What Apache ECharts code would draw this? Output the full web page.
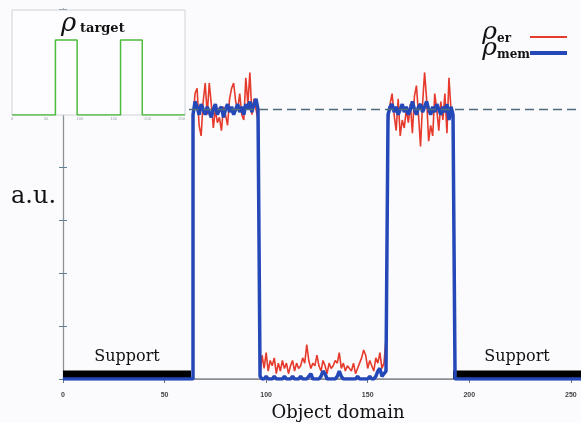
<!DOCTYPE html>
<html lang="en">
<head>
<meta charset="UTF-8">
<title>Object domain</title>
<script src="https://cdn.jsdelivr.net/npm/echarts@6/dist/echarts.min.js"></script>
<style>
    body {
        margin: 0;
        background: #fbfbfd;
    }

    #root {
        width: 581px;
        height: 423px;
    }
</style>
</head>
<body>
<div id="root"></div>
<script>
    // object domain: 0..255, support outside the two blocks
    var supportRanges = [[0, 63], [192, 255]];
    var targetBlocks = [[64, 96], [160, 192]];
    var refLevel = 1.02;

    // rho_er (red), reconstructed values
    var erBlock1 = [0.98, 1.08, 1.10, 0.96, 0.92, 1.05, 1.12, 1.00, 1.12, 1.04,
        0.95, 1.02, 0.97, 0.99, 0.94, 1.03, 1.00, 0.96, 1.06, 1.10,
        1.12, 1.05, 1.02, 1.08, 1.00, 0.98, 1.14, 1.04, 1.16, 1.00,
        1.06, 1.02, 0.98];
    var erGap = [0.02, 0.09, 0.04, 0.10, 0.03, 0.07, 0.05, 0.08, 0.02, 0.06,
        0.03, 0.07, 0.04, 0.06, 0.02, 0.05, 0.07, 0.03, 0.06, 0.04,
        0.05, 0.08, 0.06, 0.13, 0.07, 0.04, 0.06, 0.05, 0.09, 0.05,
        0.03, 0.07, 0.05, 0.02, 0.06, 0.04, 0.05, 0.07, 0.06, 0.10,
        0.04, 0.06, 0.03, 0.05, 0.04, 0.03, 0.06, 0.02, 0.04, 0.06,
        0.08, 0.11, 0.09, 0.04, 0.07, 0.05, 0.03, 0.08, 0.06, 0.10,
        0.04, 0.06, 0.15];
    var erBlock2 = [0.96, 1.04, 1.08, 1.00, 0.94, 1.06, 0.92, 0.98, 0.95, 1.02,
        0.97, 1.04, 0.93, 1.07, 1.11, 1.00, 0.88, 1.04, 1.16, 1.06,
        0.90, 0.96, 0.92, 1.08, 1.02, 0.94, 1.05, 0.98, 1.08, 0.93,
        1.14, 1.02, 0.98];

    // rho_mem (blue)
    var memBlock1 = [1.00, 1.05, 1.03, 1.00, 1.04, 1.02, 1.00, 1.03, 1.01, 0.99,
        1.02, 1.04, 1.00, 1.02, 1.03, 0.99, 1.02, 1.04, 1.01, 1.03,
        1.00, 1.02, 1.04, 1.01, 1.03, 1.00, 1.04, 1.02, 1.05, 1.01,
        1.04, 1.06, 1.02];
    var memGap = [0.01, 0, 0, 0.01, 0, 0, 0, 0.01, 0, 0,
        0, 0, 0.01, 0, 0, 0, 0.01, 0, 0, 0,
        0.01, 0, 0, 0, 0.01, 0.02, 0, 0, 0, 0,
        0.01, 0.03, 0.02, 0, 0, 0, 0, 0, 0.01, 0.03,
        0.01, 0, 0, 0, 0, 0, 0, 0, 0.01, 0,
        0, 0, 0, 0, 0.01, 0, 0, 0.01, 0.03, 0.04,
        0.01, 0.02, 0.03];
    var memBlock2 = [1.00, 1.03, 1.04, 1.01, 1.03, 1.00, 1.02, 1.04, 1.01, 1.03,
        1.00, 1.02, 1.05, 1.02, 1.00, 1.03, 1.04, 1.01, 1.03, 1.05,
        1.02, 1.00, 1.03, 1.01, 1.04, 1.02, 1.00, 1.03, 1.01, 1.04,
        0.98, 1.03, 1.00];

    var xMax = 255;
    var serif = 'DejaVu Serif';

    function seq(start, vals) {
        return vals.map(function (v, i) { return [start + i, v]; });
    }

    function profile(b1, gap, b2) {
        return [[0, 0], [targetBlocks[0][0], 0]]
            .concat(seq(targetBlocks[0][0], b1))
            .concat(seq(targetBlocks[0][1] + 1, gap))
            .concat(seq(targetBlocks[1][0], b2))
            .concat([[targetBlocks[1][1] + 1, 0], [xMax, 0]]);
    }

    function targetLine() {
        var pts = [[0, 0]];
        targetBlocks.forEach(function (b) {
            pts.push([b[0], 0], [b[0], 1], [b[1], 1], [b[1], 0]);
        });
        pts.push([xMax, 0]);
        return pts;
    }

    var chart = echarts.init(document.getElementById('root'));

    chart.setOption({
        backgroundColor: '#fbfbfd',
        animation: false,
        grid: [{
            left: 63, right: 0, top: 9, bottom: 44,
            outerBoundsMode: 'none'
        }, {
            left: 12, top: 10, width: 173, height: 105,
            outerBoundsMode: 'none',
            show: true, z: 10,
            backgroundColor: '#fdfdff',
            borderColor: '#cdd2d8', borderWidth: 1
        }],
        xAxis: [{
            type: 'value', min: 0, max: xMax, interval: 50,
            name: 'Object domain', nameLocation: 'middle', nameGap: 25,
            nameTextStyle: { fontFamily: serif, fontSize: 18, color: '#111', padding: [0, 0, 0, 32] },
            axisLine: { lineStyle: { color: '#8d8a84', width: 1 } },
            axisTick: { show: false },
            axisLabel: { fontSize: 7, fontWeight: 'bold', color: '#444', margin: 13, showMaxLabel: false },
            splitLine: { show: false }
        }, {
            type: 'value', position: 'top', min: 0, max: xMax, interval: 50,
            axisLine: { lineStyle: { color: '#8a9096', width: 1.5 } },
            axisTick: { length: -4, lineStyle: { color: '#6b7780' } },
            axisLabel: { show: false },
            splitLine: { show: false }
        }, {
            type: 'value', gridIndex: 1, min: 0, max: xMax, interval: 50, z: 11,
            axisLine: { show: false },
            axisTick: { show: false },
            axisLabel: { fontSize: 4, color: '#9aa3ad', margin: 2, showMaxLabel: false },
            splitLine: { show: false }
        }],
        yAxis: [{
            type: 'value', min: 0, max: 1.4, interval: 0.2,
            axisLine: { show: true, lineStyle: { color: '#66615c', width: 1.2 } },
            axisTick: { length: -4, lineStyle: { color: '#5f7f95' } },
            axisLabel: { show: false },
            splitLine: { show: false }
        }, {
            type: 'value', position: 'right', min: 0, max: 1.4, interval: 0.2,
            axisLine: { show: true, lineStyle: { color: '#8a9096' } },
            axisTick: { length: -4, lineStyle: { color: '#5f7f95' } },
            axisLabel: { show: false },
            splitLine: { show: false }
        }, {
            type: 'value', gridIndex: 1, min: 0, max: 1.4, z: 11,
            axisLine: { show: false },
            axisTick: { show: false },
            axisLabel: { show: false },
            splitLine: { show: false }
        }],
        legend: {
            data: [
                { name: 'er', icon: 'path://M0,0H37V2H0Z' },
                { name: 'mem', icon: 'path://M0,0H37V4H0Z' }
            ],
            orient: 'vertical', align: 'right',
            right: 9, top: 15,
            itemWidth: 37, itemHeight: 14, itemGap: -9,
            formatter: function (name) {
                return '{r|ρ}{s|' + name + '}';
            },
            textStyle: {
                rich: {
                    r: { fontFamily: serif, fontStyle: 'italic', fontSize: 25, color: '#111', lineHeight: 16, verticalAlign: 'bottom', align: 'left' },
                    s: { fontFamily: serif, fontWeight: 'bold', fontSize: 12, color: '#111', lineHeight: 12, width: 28, verticalAlign: 'bottom', align: 'left' }
                }
            }
        },
        graphic: [{
            type: 'text', left: 61, top: 11, z: 20,
            style: { text: 'ρ', font: 'italic 26px "DejaVu Serif"', fill: '#111' }
        }, {
            type: 'text', left: 80, top: 22, z: 20,
            style: { text: 'target', font: 'bold 13px "DejaVu Serif"', fill: '#111' }
        }, {
            type: 'text', left: 11, top: 185,
            style: { text: 'a.u.', font: '24px "DejaVu Serif"', fill: '#111' }
        }],
        series: [{
            name: 'er', type: 'line', xAxisIndex: 0, yAxisIndex: 0,
            data: profile(erBlock1, erGap, erBlock2),
            symbol: 'none', z: 2,
            lineStyle: { color: '#e63a2c', width: 1.6 },
            itemStyle: { color: '#e63a2c' }
        }, {
            name: 'mem', type: 'line', xAxisIndex: 0, yAxisIndex: 0,
            data: profile(memBlock1, memGap, memBlock2),
            symbol: 'none', z: 3,
            lineStyle: { color: '#2548b8', width: 3.5 },
            itemStyle: { color: '#2548b8' },
            markLine: {
                silent: true, symbol: 'none',
                label: { show: false },
                lineStyle: { color: '#4f6b7c', type: [9, 5], width: 1.3 },
                data: [{ yAxis: refLevel }]
            }
        }, {
            name: 'support', type: 'line', xAxisIndex: 0, yAxisIndex: 0,
            data: [], z: 5,
            markArea: {
                silent: true,
                itemStyle: { color: '#000', opacity: 1 },
                label: {
                    show: true, position: 'top', distance: 6,
                    formatter: 'Support',
                    fontFamily: serif, fontSize: 16, color: '#111'
                },
                data: supportRanges.map(function (r) {
                    return [{ xAxis: r[0], yAxis: 0 }, { xAxis: r[1], yAxis: 0.032 }];
                })
            }
        }, {
            name: 'target', type: 'line', xAxisIndex: 2, yAxisIndex: 2,
            data: targetLine(), symbol: 'none', z: 12,
            lineStyle: { color: '#4dbb3b', width: 1.5 },
            markLine: {
                silent: true, symbol: 'none',
                label: { show: false },
                lineStyle: { color: '#a9b4c4', type: [2, 2], width: 1 },
                data: [{ yAxis: 1 }]
            }
        }]
    });
</script>
</body>
</html>
